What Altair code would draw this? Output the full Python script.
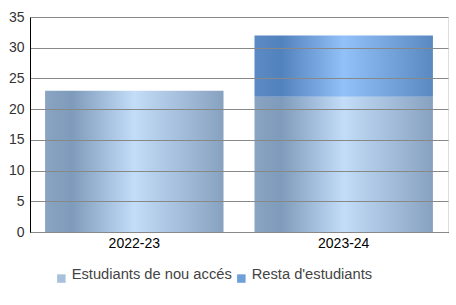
import altair as alt
import pandas as pd

years = ["2022-23", "2023-24"]
series_names = ["Estudiants de nou accés", "Resta d'estudiants"]
nou_acces = [23, 22]
resta = [0, 10]

rows = []
for i, y in enumerate(years):
    rows.append({"year": y, "series": series_names[0], "value": nou_acces[i], "ord": 0})
    if resta[i] > 0:
        rows.append({"year": y, "series": series_names[1], "value": resta[i], "ord": 1})
df = pd.DataFrame(rows)

grad1 = {"gradient": "linear", "x1": 0, "x2": 1, "y1": 0, "y2": 0,
         "stops": [{"offset": 0, "color": "#8aa4c2"},
                   {"offset": 0.15, "color": "#7f9bbb"},
                   {"offset": 0.5, "color": "#c3ddf8"},
                   {"offset": 1, "color": "#87a1c0"}]}
grad2 = {"gradient": "linear", "x1": 0, "x2": 1, "y1": 0, "y2": 0,
         "stops": [{"offset": 0, "color": "#5b8ac4"},
                   {"offset": 0.15, "color": "#5282bd"},
                   {"offset": 0.5, "color": "#92c0f8"},
                   {"offset": 1, "color": "#5a88c0"}]}

x_enc = alt.X("year:N", sort=years, title=None,
              scale=alt.Scale(paddingInner=0.148, paddingOuter=0.072),
              axis=alt.Axis(labelAngle=0, ticks=False, domainColor="#000000",
                            labelColor="#000000", labelFontSize=14, labelPadding=4,
                            labelFont="Liberation Sans"))
y_enc = alt.Y("value:Q", stack="zero", title=None,
              scale=alt.Scale(domain=[0, 35]),
              axis=alt.Axis(values=[0, 5, 10, 15, 20, 25, 30, 35], ticks=False,
                            domainColor="#000000", gridColor="#888888", gridOpacity=1,
                            labelColor="#333333", labelFontSize=14, labelPadding=6,
                            labelFont="Liberation Sans", zindex=1))

base = alt.Chart(df)

bars = base.mark_bar().encode(
    x=x_enc, y=y_enc,
    fill=alt.condition(alt.datum.series == series_names[0], alt.value(grad1), alt.value(grad2)),
    order=alt.Order("ord:Q"),
)

legend_layer = base.mark_bar(opacity=0).encode(
    x=x_enc, y=y_enc,
    color=alt.Color("series:N", sort=series_names, title=None,
                    scale=alt.Scale(domain=series_names, range=["#a8c0dc", "#6f9fd8"]),
                    legend=alt.Legend(orient="none", legendX=24, legendY=254,
                                      direction="horizontal", symbolType="square",
                                      symbolSize=72, symbolStrokeWidth=0,
                                      symbolOpacity=1,
                                      labelFontSize=14.7, labelColor="#444444",
                                      labelFont="Liberation Sans", labelOffset=3,
                                      labelBaseline="alphabetic", labelLimit=400,
                                      columnPadding=2)),
    order=alt.Order("ord:Q"),
)

chart = alt.layer(bars, legend_layer).properties(
    width=418, height=215,
    autosize=alt.AutoSizeParams(type="none"),
    padding={"left": 30, "top": 17, "right": 8, "bottom": 73},
).configure_view(stroke=None).configure(background="white")

chart.save("out.html", embed_options={"renderer": "svg", "actions": False})
